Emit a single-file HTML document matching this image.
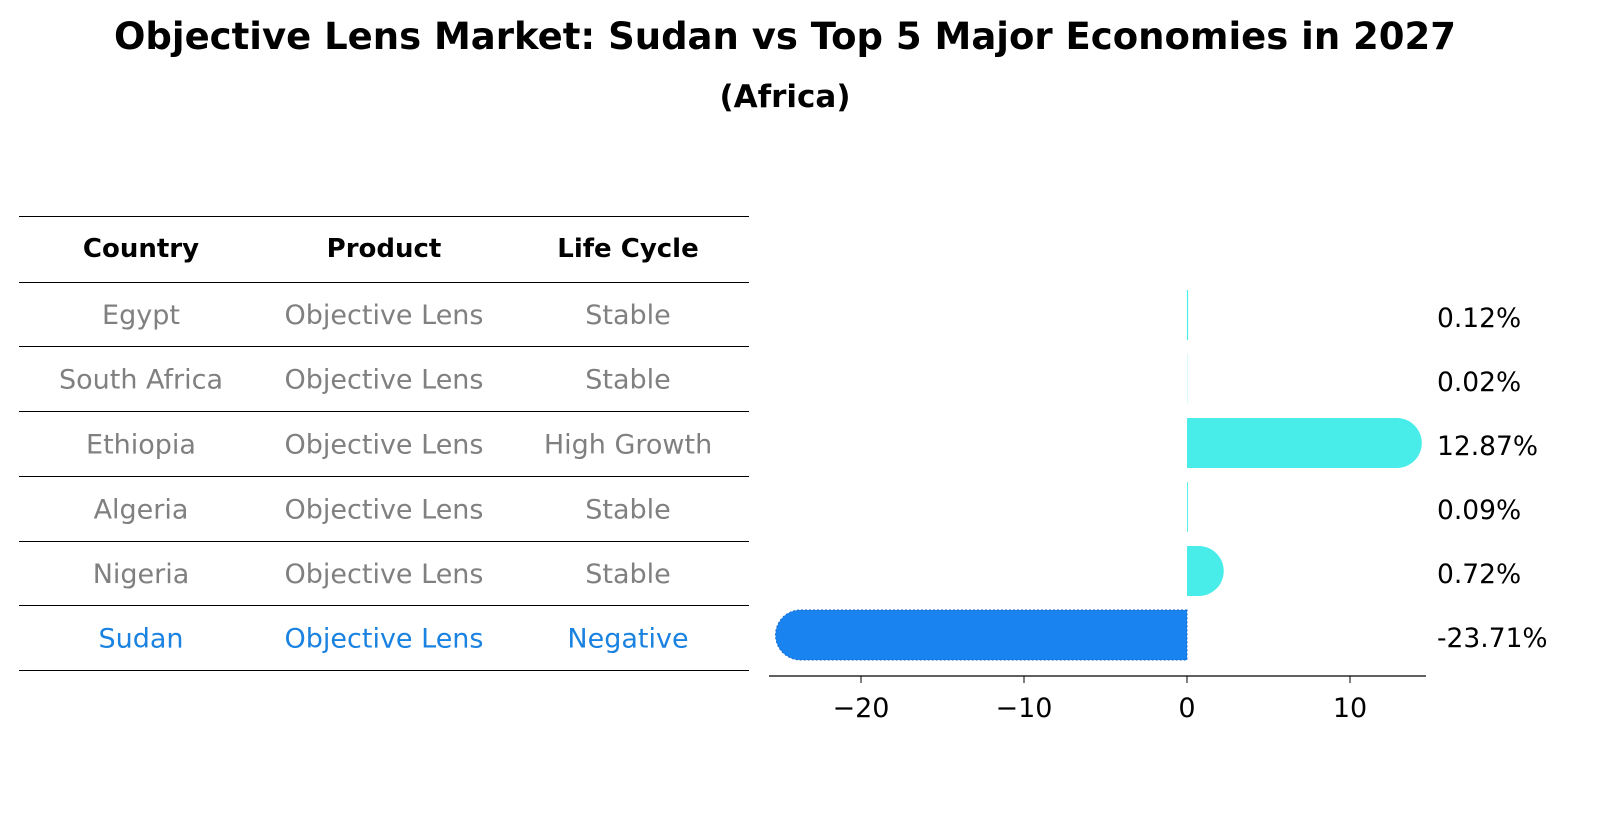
<!DOCTYPE html>
<html><head><meta charset="utf-8"><style>
body{margin:0;background:#fff;font-family:"Liberation Sans","DejaVu Sans",sans-serif}
</style></head><body>
<svg width="1614" height="823" xmlns="http://www.w3.org/2000/svg" font-family="DejaVu Sans, Liberation Sans, sans-serif">
<text x="785" y="49" text-anchor="middle" font-size="37" font-weight="bold">Objective Lens Market: Sudan vs Top 5 Major Economies in 2027</text>
<text x="785" y="107" text-anchor="middle" font-size="31" font-weight="bold">(Africa)</text>
<g id="table"></g>
<g id="bars"></g>
</svg>
<script>
const countries=["Egypt","South Africa","Ethiopia","Algeria","Nigeria","Sudan"];
const products=["Objective Lens","Objective Lens","Objective Lens","Objective Lens","Objective Lens","Objective Lens"];
const lifecycles=["Stable","Stable","High Growth","Stable","Stable","Negative"];
const values=[0.12,0.02,12.87,0.09,0.72,-23.71];
const labels=["0.12%","0.02%","12.87%","0.09%","0.72%","-23.71%"];
const ticks=[-20,-10,0,10];
const tickLabels=["\u221220","\u221210","0","10"];
const NS="http://www.w3.org/2000/svg";
function mk(tag,attrs,parent,txt){const e=document.createElementNS(NS,tag);for(const k in attrs)e.setAttribute(k,attrs[k]);if(txt!==undefined)e.textContent=txt;parent.appendChild(e);return e;}
const tbl=document.getElementById('table');
const lineYs=[216,282,346,411,476,541,605,670];
lineYs.forEach((y,i)=>{const l=mk('line',{x1:19,x2:749,y1:y+0.5,y2:y+0.5,stroke:'#000','stroke-width':1},tbl);

});
const colX=[141,384,628];
["Country","Product","Life Cycle"].forEach((h,i)=>{const t=mk('text',{x:colX[i],y:257,'text-anchor':'middle','font-size':26,'font-weight':'bold'},tbl,h);

});
countries.forEach((c,r)=>{const y=(lineYs[r+1]+lineYs[r+2])/2+10;const col=c==="Sudan"?'#1a82e0':'#808080';
[c,products[r],lifecycles[r]].forEach((v,i)=>{const t=mk('text',{x:colX[i],y:y,'text-anchor':'middle','font-size':27,fill:col},tbl,v);

});});
const g=document.getElementById('bars');
const x0=1187,ppu=16.3;
const X=v=>x0+v*ppu;
const rowY=r=>315+r*64;
const R=25;
values.forEach((v,r)=>{
const cy=rowY(r);const col=v<0?'#1984f0':'#48ece8';let el;
const w=Math.abs(X(v)-x0);
if(Math.abs(v)<0.5){el=mk('line',{x1:x0+0.5,x2:x0+0.5,y1:cy-R,y2:cy+R,stroke:col,'stroke-width':Math.abs(v)*10},g);}
else if(v>0){el=mk('path',{d:`M${x0},${cy-R}H${x0+w}A${R},${R} 0 0 1 ${x0+w},${cy+R}H${x0}Z`,fill:col},g);}
else{el=mk('path',{d:`M${x0},${cy-R}H${x0-w}A${R},${R} 0 0 0 ${x0-w},${cy+R}H${x0}Z`,fill:col,stroke:'#1466d0','stroke-dasharray':'2,2','stroke-width':1},g);}


const t=mk('text',{x:1437,y:cy+12,'font-size':26.5},g,labels[r]);


});
const ax=mk('line',{x1:769,x2:1426,y1:676,y2:676,stroke:'#000','stroke-width':1.2},g);


ticks.forEach((t,i)=>{const tk=mk('line',{x1:X(t),x2:X(t),y1:676,y2:683,stroke:'#000'},g);


const tl=mk('text',{x:X(t),y:717,'text-anchor':'middle','font-size':27},g,tickLabels[i]);

});
</script>
</body></html>
